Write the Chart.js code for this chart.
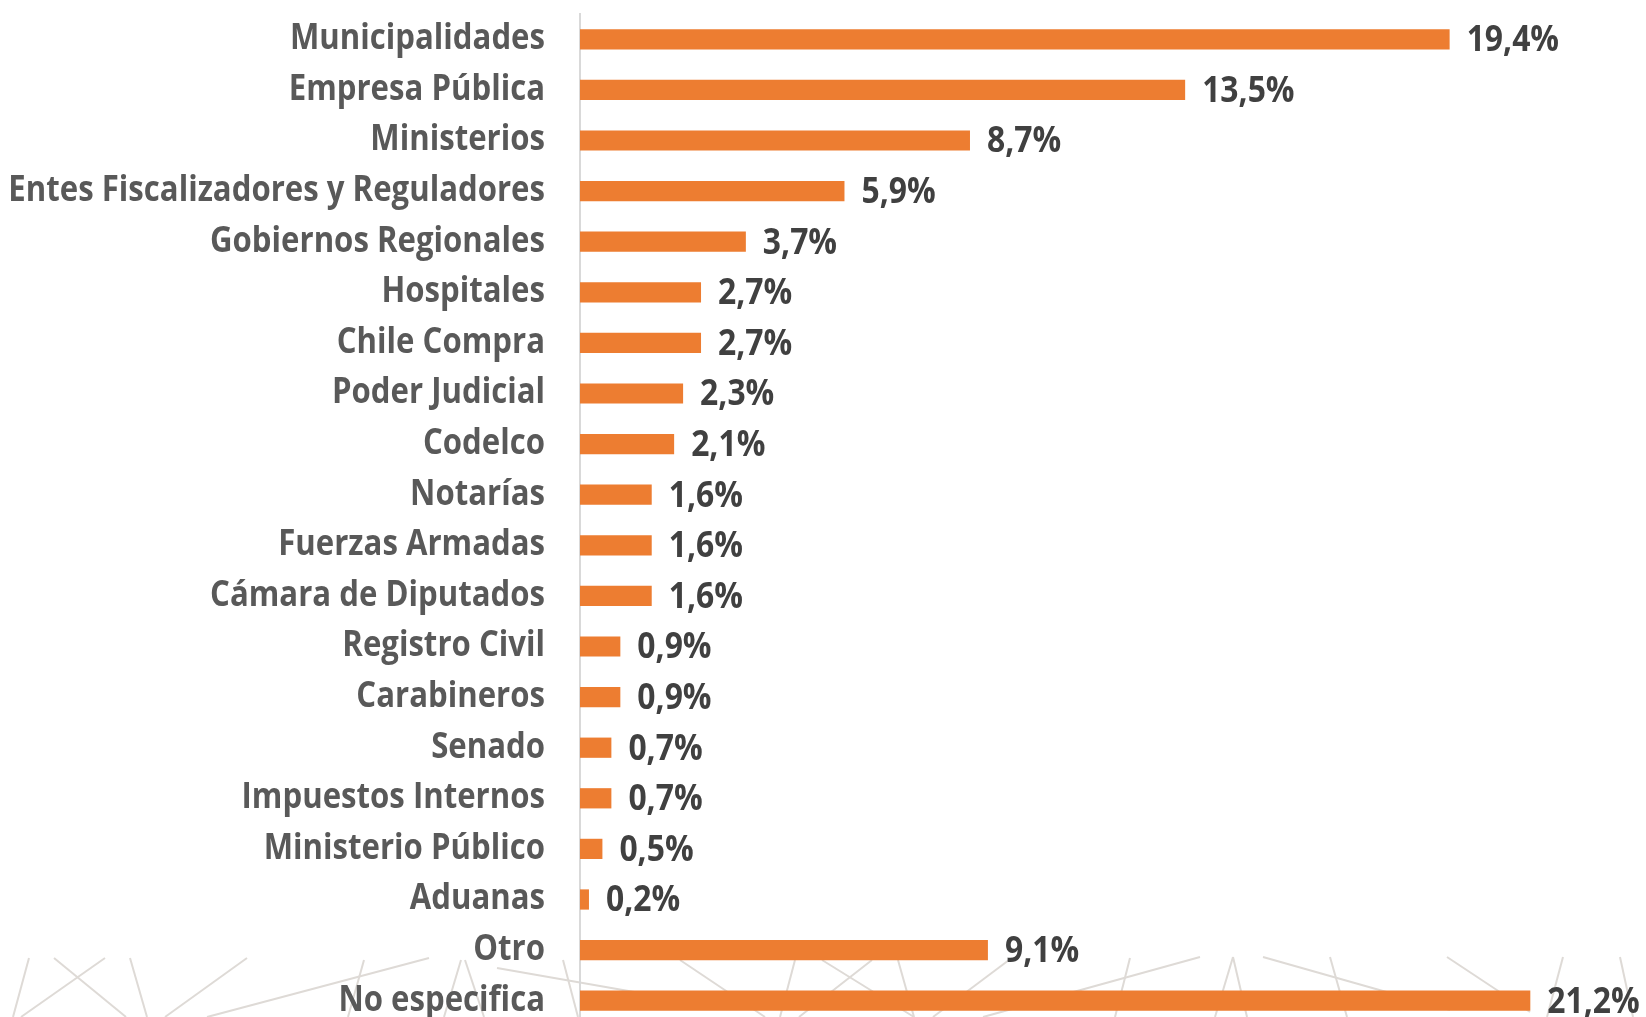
<!DOCTYPE html>
<html lang="es">
<head>
    <meta charset="UTF-8">
    <title>Instituciones</title>
    <script src="https://cdn.jsdelivr.net/npm/chart.js"></script>
    <style>
        html, body { margin: 0; padding: 0; background: #fff; overflow: hidden; }
        .chart-wrapper { position: relative; width: 1646px; height: 1026px; }
    </style>
</head>
<body>
    <div class="chart-wrapper">
        <canvas id="barChart"></canvas>
    </div>

    <script>
        const categories = [
            'Municipalidades', 'Empresa Pública', 'Ministerios',
            'Entes Fiscalizadores y Reguladores', 'Gobiernos Regionales',
            'Hospitales', 'Chile Compra', 'Poder Judicial', 'Codelco',
            'Notarías', 'Fuerzas Armadas', 'Cámara de Diputados',
            'Registro Civil', 'Carabineros', 'Senado', 'Impuestos Internos',
            'Ministerio Público', 'Aduanas', 'Otro', 'No especifica'
        ];
        const percentages = [
            19.4, 13.5, 8.7, 5.9, 3.7, 2.7, 2.7, 2.3, 2.1, 1.6,
            1.6, 1.6, 0.9, 0.9, 0.7, 0.7, 0.5, 0.2, 9.1, 21.2
        ];

        const FONT = "'Open Sans', sans-serif";

        // decorative line pattern behind the bottom rows
        const patternLines = [
            [29, 958, 13, 1017], [54, 958, 126, 1017], [105, 958, 21, 1017],
            [130, 958, 147, 1017], [247, 958, 165, 1017], [429, 958, 207, 1017],
            [364, 960, 348, 1017], [461, 960, 444, 1017], [465, 960, 484, 1017],
            [497, 968, 680, 1000], [563, 960, 578, 1017], [680, 960, 765, 1017],
            [795, 960, 780, 1017], [822, 960, 914, 1017], [872, 960, 799, 1017],
            [898, 960, 914, 1017], [1009, 960, 933, 1017], [1200, 957, 983, 1017],
            [1130, 958, 1115, 1017], [1233, 957, 1215, 1017], [1233, 957, 1247, 1017],
            [1263, 957, 1450, 1010], [1330, 957, 1347, 1017], [1447, 957, 1530, 1012],
            [1563, 957, 1547, 1017], [1620, 957, 1633, 1017]
        ];

        const backgroundPattern = {
            id: 'backgroundPattern',
            beforeDraw(chart) {
                const ctx = chart.ctx;
                ctx.save();
                ctx.strokeStyle = '#dedad6';
                ctx.lineWidth = 2;
                patternLines.forEach(l => {
                    ctx.beginPath();
                    ctx.moveTo(l[0], l[1]);
                    ctx.lineTo(l[2], l[3]);
                    ctx.stroke();
                });
                ctx.restore();
            }
        };

        // narrow text: the original uses a condensed face, so squeeze Open Sans a bit
        function drawNarrow(ctx, text, x, y, sx) {
            ctx.save();
            ctx.translate(x, y);
            ctx.scale(sx, 1);
            ctx.fillText(text, 0, 0);
            ctx.restore();
        }

        const categoryLabels = {
            id: 'categoryLabels',
            afterDraw(chart) {
                const ctx = chart.ctx;
                const yScale = chart.scales.y;
                ctx.save();
                ctx.font = 'bold 35px ' + FONT;
                ctx.fillStyle = '#595959';
                ctx.textAlign = 'right';
                ctx.textBaseline = 'middle';
                categories.forEach((c, i) => {
                    drawNarrow(ctx, c, yScale.right - 35, yScale.getPixelForTick(i), 0.89);
                });
                ctx.restore();
            }
        };

        const valueLabels = {
            id: 'valueLabels',
            afterDatasetsDraw(chart) {
                const ctx = chart.ctx;
                const meta = chart.getDatasetMeta(0);
                ctx.save();
                ctx.font = 'bold 35px ' + FONT;
                ctx.fillStyle = '#404040';
                ctx.textAlign = 'left';
                ctx.textBaseline = 'middle';
                meta.data.forEach((bar, i) => {
                    const txt = percentages[i].toFixed(1).replace('.', ',') + '%';
                    drawNarrow(ctx, txt, bar.x + 17, bar.y + 2, 0.91);
                });
                ctx.restore();
            }
        };

        const ctx = document.getElementById('barChart').getContext('2d');
        new Chart(ctx, {
            type: 'bar',
            data: {
                labels: categories,
                datasets: [{
                    data: percentages,
                    backgroundColor: '#ED7D31',
                    borderWidth: 0,
                    categoryPercentage: 0.4,
                    barPercentage: 1.0
                }]
            },
            options: {
                indexAxis: 'y',
                responsive: true,
                maintainAspectRatio: false,
                animation: false,
                layout: {
                    padding: { top: 14, right: 35, bottom: 0, left: 0 }
                },
                scales: {
                    x: {
                        display: false,
                        min: 0,
                        max: 23
                    },
                    y: {
                        afterFit(scale) {
                            scale.width = 580;
                            scale.paddingTop = 0;
                            scale.paddingBottom = 0;
                        },
                        grid: { display: false },
                        border: { display: true, color: '#d9d9d9', width: 2 },
                        ticks: { display: false }
                    }
                },
                plugins: {
                    legend: { display: false },
                    tooltip: { enabled: false }
                }
            },
            plugins: [backgroundPattern, valueLabels, categoryLabels]
        });
    </script>
</body>
</html>
